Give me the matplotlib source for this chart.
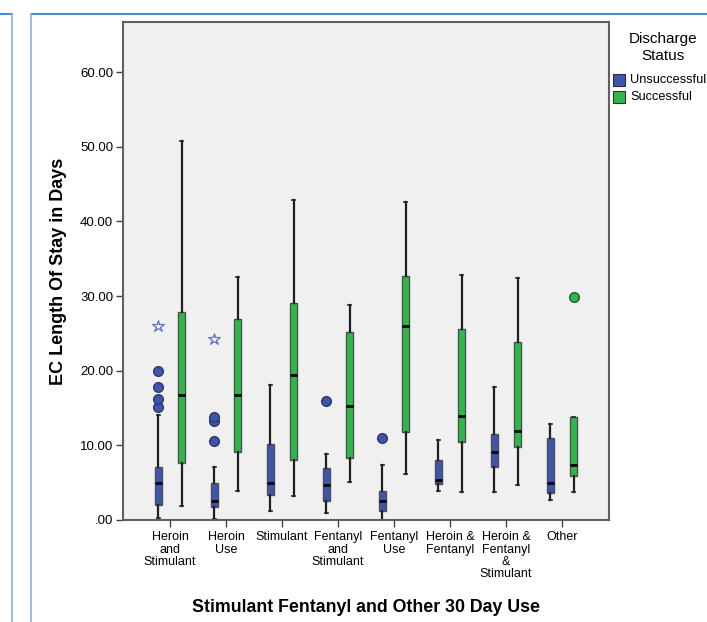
import matplotlib
matplotlib.use("Agg")
import matplotlib.pyplot as plt
from matplotlib.lines import Line2D
from matplotlib.patches import Rectangle

plt.rcParams['font.family'] = ['Liberation Sans', 'DejaVu Sans']

categories = ["Heroin\nand\nStimulant", "Heroin\nUse", "Stimulant", "Fentanyl\nand\nStimulant",
              "Fentanyl\nUse", "Heroin &\nFentanyl", "Heroin &\nFentanyl\n&\nStimulant", "Other"]
series = ["Unsuccessful", "Successful"]

# Unsuccessful (blue)
u_whislo = [0.3, 0.1, 1.2, 1.0, 0.0, 3.9, 3.8, 2.7]
u_q1     = [2.0, 1.8, 3.3, 2.5, 1.2, 4.8, 7.05, 3.6]
u_med    = [4.9, 2.5, 5.0, 4.7, 2.5, 5.3, 9.1, 4.9]
u_q3     = [7.1, 4.9, 10.2, 6.9, 3.9, 8.0, 11.5, 11.0]
u_whishi = [14.1, 7.05, 18.1, 8.8, 7.3, 10.7, 17.8, 12.9]
u_out    = [[15.2, 16.2, 17.8, 19.9], [10.6, 13.3, 13.8], [], [16.0], [11.0], [], [], []]
u_ext    = [[26.0], [24.3], [], [], [], [], [], []]

# Successful (green)
s_whislo = [1.9, 3.9, 3.2, 5.1, 6.2, 3.8, 4.7, 3.7]
s_q1     = [7.7, 9.1, 8.0, 8.3, 11.8, 10.4, 9.8, 5.9]
s_med    = [16.7, 16.7, 19.4, 15.3, 26.0, 13.9, 11.9, 7.4]
s_q3     = [27.9, 26.9, 29.0, 25.2, 32.7, 25.6, 23.9, 13.8]
s_whishi = [50.7, 32.6, 42.9, 28.8, 42.6, 32.8, 32.4, 13.8]
s_out    = [[], [], [], [], [], [], [], [29.9]]
s_ext    = [[], [], [], [], [], [], [], []]

yticks = [0, 10, 20, 30, 40, 50, 60]
ytick_labels = [".00", "10.00", "20.00", "30.00", "40.00", "50.00", "60.00"]

blue = "#3d55b0"
green = "#2fb84a"
star_col = "#5b74cc"

fig = plt.figure(figsize=(7.07, 6.22), dpi=100)

# frame decorations (panel borders)
for (x0, x1, y0, y1, c, lw) in [
    (0, 12/707, 1 - 14/622, 1 - 14/622, "#1f73c4", 1.2),
    (31/707, 1, 1 - 14/622, 1 - 14/622, "#1f73c4", 1.2),
    (12/707, 12/707, 0, 1 - 14/622, "#7fb2e0", 1.2),
    (31/707, 31/707, 0, 1 - 14/622, "#7fb2e0", 1.2)]:
    fig.add_artist(Line2D([x0, x1], [y0, y1], transform=fig.transFigure, color=c, lw=lw))

ax = fig.add_axes([123/707, 1 - 520/622, (609 - 123)/707, (520 - 22)/622])
ax.set_facecolor("#f0f0f0")
for sp in ax.spines.values():
    sp.set_color("#606060")
    sp.set_linewidth(1.5)

off = 0.21
w = 0.12

def draw(whislo, q1, med, q3, whishi, out, ext, color, dx):
    stats = []
    for i in range(len(categories)):
        stats.append(dict(whislo=whislo[i], q1=q1[i], med=med[i], q3=q3[i],
                          whishi=whishi[i], fliers=out[i]))
    pos = [i + dx for i in range(len(categories))]
    ax.bxp(stats, positions=pos, widths=w, patch_artist=True, showfliers=True,
           boxprops=dict(facecolor=color, edgecolor="#505050", linewidth=1.0),
           medianprops=dict(color="black", linewidth=2.0),
           whiskerprops=dict(color="#202020", linewidth=1.6),
           capprops=dict(color="#202020", linewidth=1.2),
           capwidths=0.05,
           flierprops=dict(marker="o", markerfacecolor=color, markeredgecolor="#303a60" if color == blue else "#2a5a30",
                           markersize=7, markeredgewidth=1.0, linestyle="none"))
    for i, e in enumerate(ext):
        if e:
            ax.plot([i + dx] * len(e), e, linestyle="none", marker="*", markersize=9,
                    markerfacecolor="none", markeredgecolor=star_col, markeredgewidth=0.9)

draw(u_whislo, u_q1, u_med, u_q3, u_whishi, u_out, u_ext, blue, -off)
draw(s_whislo, s_q1, s_med, s_q3, s_whishi, s_out, s_ext, green, off)

ax.set_xlim(-0.84, len(categories) - 1 + 0.84)
ax.set_ylim(0, 66.7)
ax.set_xticks(range(len(categories)))
ax.set_xticklabels(categories, fontsize=9, linespacing=1.05, va="top")
ax.set_yticks(yticks)
ax.set_yticklabels(ytick_labels, fontsize=9.5)
ax.tick_params(axis="both", direction="out", length=5, width=1.0, color="#404040", pad=2)
ax.tick_params(axis="x", pad=3)
ax.set_ylabel("EC Length Of Stay in Days", fontsize=13, fontweight="bold")
ax.yaxis.set_label_coords(-0.115, 0.5)
ax.set_xlabel("Stimulant Fentanyl and Other 30 Day Use", fontsize=12.8, fontweight="bold")
ax.xaxis.set_label_coords(0.5, -0.158)

# legend
fig.text(663/707, 1 - 39/622, "Discharge", ha="center", va="center", fontsize=11)
fig.text(663/707, 1 - 56/622, "Status", ha="center", va="center", fontsize=11)
for j, (lab, col) in enumerate(zip(series, [blue, green])):
    yc = 80 + j * 17
    fig.add_artist(Rectangle((613/707, 1 - (yc + 6)/622), 12/707, 12/622, transform=fig.transFigure,
                             facecolor=col, edgecolor="#303030", linewidth=0.8))
    fig.text(630/707, 1 - yc/622, lab, ha="left", va="center", fontsize=9.2)

fig.savefig("out.png", dpi=100)
